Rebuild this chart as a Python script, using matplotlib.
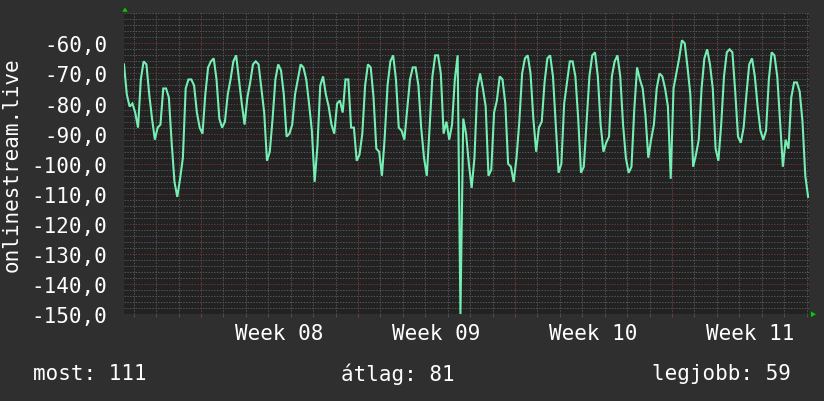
import matplotlib
matplotlib.use("Agg")
import matplotlib.pyplot as plt
import matplotlib.ticker as mticker
from matplotlib.patches import Polygon
import pandas as pd
import numpy as np

# ---------------- data (3-hour samples) ----------------
start_time = "2025-02-13 13:40"
step_hours = 3
values_a = [-67, -77, -81, -80, -83, -88, -72, -66, -67, -77, -85, -92, -88, -87, -75, -75,
            -78, -93, -106, -111, -105, -98, -75, -72, -72, -74, -83, -88, -90, -77, -68, -66,
            -65, -72, -85, -88, -86, -77, -72, -66, -64]
values_b = [-72, -80, -87, -78, -73, -67, -66, -67, -75, -83, -99, -96, -85, -72, -67, -69,
            -77, -91, -90, -87, -77, -72, -67, -68, -72, -80, -89, -106, -94, -74, -71, -77,
            -81, -87, -90, -80, -79, -83, -72, -72]
values_c = [-88, -88, -99, -97, -90, -74, -67, -68, -78, -95, -96, -104, -91, -74, -66, -64,
            -72, -88, -89, -92, -82, -72, -68, -68, -74, -88, -98, -104, -88, -71, -64, -64,
            -70, -90, -86, -92, -87, -72, -64, -150]
values_d = [-85, -90, -100, -108, -98, -75, -70, -75, -81, -104, -102, -83, -79, -71, -72, -80,
            -100, -101, -106, -98, -86, -70, -65, -64, -70, -85, -96, -88, -86, -73, -65, -64,
            -71, -87, -103, -100, -80, -73, -66, -66, -71]
values_e = [-85, -103, -101, -86, -71, -64, -63, -71, -87, -96, -93, -91, -71, -66, -64, -71,
            -87, -98, -103, -101, -82, -68, -72, -75, -84, -98, -92, -87, -75, -70, -71, -75,
            -81, -105, -75, -70, -65, -59, -60, -68, -77]
values_f = [-101, -97, -92, -75, -65, -62, -67, -75, -95, -99, -87, -71, -63, -62, -63, -76,
            -91, -93, -88, -77, -67, -65, -71, -81, -89, -92, -89, -72, -63, -64, -71, -86,
            -101, -92, -95, -78, -73, -73, -76, -86, -104, -111]

week_starts = ["2025-02-17", "2025-02-24", "2025-03-03", "2025-03-10"]
week_labels = ["Week 08", "Week 09", "Week 10", "Week 11"]
y_ticks = [-150, -140, -130, -120, -110, -100, -90, -80, -70, -60]
axis_title = "onlinestream.live"
stat_labels = ["most: 111", "átlag: 81", "legjobb: 59"]

values = values_a + values_b + values_c + values_d + values_e + values_f
times = pd.date_range(start=start_time, periods=len(values), freq=f"{step_hours}h")

# ---------------- styling ----------------
BG = "#2f2f2f"
PLOT_BG = "#222222"
LINE = "#74eeb2"
GRID_GRAY = "#555555"
GRID_RED = "#6e3030"
ARROW = "#00d000"
FONT = "DejaVu Sans Mono"
FS = 15

W, H = 824, 402
fig = plt.figure(figsize=(W / 100, H / 100), dpi=100, facecolor=BG)
ax = fig.add_axes([124 / W, 1 - 315.3 / H, 685 / W, 301.1 / H])
ax.set_facecolor(PLOT_BG)
for s in ax.spines.values():
    s.set_visible(False)

t0 = pd.Timestamp(start_time)
ax.set_xlim(t0, t0 + pd.Timedelta(days=30.54))
ax.set_ylim(-150, -50)

# y axis
ax.set_yticks(y_ticks)
ax.yaxis.set_major_formatter(mticker.FuncFormatter(lambda v, p: f"{v:.1f}".replace(".", ",")))
ax.yaxis.set_minor_locator(mticker.MultipleLocator(2))
ax.tick_params(axis="y", which="both", length=0, pad=12, labelsize=FS, labelcolor="white")
for lab in ax.get_yticklabels():
    lab.set_fontfamily(FONT)

# x axis: day grid, week lines, labels mid-week
day_ticks = pd.date_range(start="2025-02-14", periods=31, freq="D")
ax.set_xticks(day_ticks, minor=True)
mids = [pd.Timestamp(w) + pd.Timedelta(days=3.5) for w in week_starts]
ax.set_xticks(mids)
ax.set_xticklabels(week_labels, fontfamily=FONT, fontsize=FS, color="white")
ax.tick_params(axis="x", which="major", length=0, pad=6)
ax.tick_params(axis="x", which="minor", length=2, color=GRID_GRAY, direction="out")

dash = (0, (1.4, 1.4))
LW = 0.72
ax.grid(False)
ax.yaxis.grid(True, which="minor", color=GRID_GRAY, linestyle=dash, linewidth=LW)
ax.yaxis.grid(True, which="major", color=GRID_RED, linestyle=dash, linewidth=LW)
ax.xaxis.grid(True, which="minor", color=GRID_GRAY, linestyle=dash, linewidth=LW)
for w in week_starts:
    ax.axvline(pd.Timestamp(w), color=GRID_RED, linestyle=dash, linewidth=LW, zorder=2)
ax.set_axisbelow(True)

ax.plot(times, values, color=LINE, linewidth=1.5, zorder=3, solid_joinstyle="miter")

# axis arrows
fig.patches.append(Polygon([(122.3 / W, 1 - 12.7 / H), (127.7 / W, 1 - 12.7 / H), (125 / W, 1 - 8.5 / H)],
                           closed=True, transform=fig.transFigure, facecolor=ARROW, edgecolor="none"))
fig.patches.append(Polygon([(811 / W, 1 - 312.5 / H), (811 / W, 1 - 318 / H), (816 / W, 1 - 315.3 / H)],
                           closed=True, transform=fig.transFigure, facecolor=ARROW, edgecolor="none"))

# title on the left
fig.text(12 / W, 1 - 164.5 / H, axis_title, rotation=90, ha="center", va="center",
         color="white", fontfamily=FONT, fontsize=FS)

# stats at bottom
ty = 1 - 374 / H
fig.text(33 / W, ty, stat_labels[0], ha="left", va="center", color="white", fontfamily=FONT, fontsize=FS)
fig.text(341 / W, ty, stat_labels[1], ha="left", va="center", color="white", fontfamily=FONT, fontsize=FS)
fig.text(791 / W, ty, stat_labels[2], ha="right", va="center", color="white", fontfamily=FONT, fontsize=FS)

fig.savefig("out.png", dpi=100, facecolor=BG)
